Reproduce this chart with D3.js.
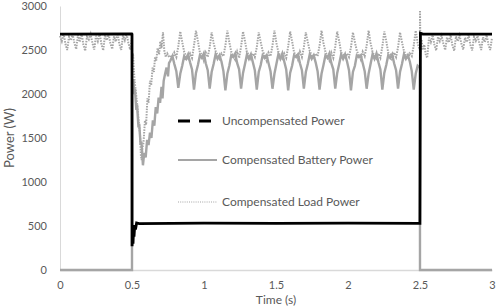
<!DOCTYPE html>
<html>
<head>
<meta charset="utf-8">
<script src="https://cdn.jsdelivr.net/npm/d3@7"></script>
<style>
  body { margin: 0; background: #fff; }
  text { font-family: Lato, "Liberation Sans", sans-serif; fill: #595959; }
</style>
</head>
<body>
<div id="chart"></div>
<script>
// tick labels
const xTicks = [0, 0.5, 1, 1.5, 2, 2.5, 3];
const yTicks = [0, 500, 1000, 1500, 2000, 2500, 3000];

// Uncompensated power, [time, watts]
const uncompensated = [
  [0, 2680], [0.499, 2682], [0.5, 2680], [0.5005, 270], [0.504, 420], [0.507, 300],
  [0.511, 470], [0.514, 380], [0.519, 510], [0.524, 460], [0.532, 535], [0.55, 528],
  [1.0, 532], [1.5, 530], [2.0, 532], [2.4995, 530], [2.503, 2690], [2.52, 2680], [3.0, 2680]
];

// Compensated battery power: transient pairs and a steady run (t0, dt, values)
const batteryStart = [[0, 0], [0.5, 0]];
const batteryDip = [
  [0.5004, 2160], [0.505, 2100], [0.51, 2170], [0.515, 2000], [0.52, 2060], [0.53, 1820],
  [0.535, 1880], [0.545, 1620], [0.55, 1660], [0.56, 1420], [0.565, 1460], [0.576, 1190],
  [0.585, 1330], [0.595, 1280], [0.605, 1480], [0.615, 1420], [0.625, 1560], [0.635, 1500],
  [0.645, 1700], [0.655, 1640], [0.665, 1850], [0.675, 1780], [0.685, 1960], [0.695, 1900],
  [0.705, 2080], [0.712, 1950], [0.72, 2150], [0.73, 2230], [0.74, 2300], [0.75, 2200],
  [0.757, 2350]
];
const batterySteadyT0 = 0.767, batterySteadyDt = 0.013625;
const batterySteady = [
  2380, 2430, 2340, 2260, 2070, 2230, 2320, 2430,
  2400, 2450, 2360, 2280, 2050, 2240, 2330, 2440,
  2410, 2460, 2350, 2270, 2060, 2250, 2340, 2450,
  2400, 2440, 2370, 2260, 2040, 2230, 2320, 2440,
  2420, 2460, 2350, 2280, 2060, 2240, 2340, 2450,
  2400, 2450, 2360, 2270, 2050, 2250, 2330, 2440,
  2410, 2440, 2350, 2260, 2060, 2230, 2340, 2450,
  2400, 2460, 2370, 2280, 2040, 2240, 2320, 2440,
  2420, 2450, 2350, 2270, 2060, 2250, 2340, 2450,
  2400, 2440, 2360, 2260, 2050, 2230, 2330, 2440,
  2410, 2460, 2350, 2280, 2060, 2240, 2340, 2450,
  2400, 2450, 2370, 2270, 2040, 2250, 2320, 2440,
  2420, 2440, 2350, 2260, 2060, 2230, 2340, 2450,
  2400, 2460, 2360, 2280, 2050, 2240, 2330, 2440,
  2410, 2450, 2350, 2270, 2060, 2250, 2340, 2450,
  2400, 2440, 2370, 2260, 2050, 2230, 2320, 2300
];
const batteryEnd = [[2.4995, 2300], [2.5, 0], [3.0, 0]];

// Compensated load power
const loadPreT0 = 0, loadPreDt = 0.0125;
const loadPre = [
  2660, 2600, 2690, 2570, 2500,
  2650, 2610, 2680, 2580, 2510,
  2670, 2590, 2690, 2560, 2490,
  2650, 2620, 2680, 2580, 2505,
  2660, 2600, 2690, 2570, 2495,
  2670, 2610, 2680, 2575, 2510,
  2655, 2595, 2690, 2565, 2500,
  2665, 2610, 2685, 2580, 2505
];
const loadDip = [
  [0.5, 2640], [0.5004, 2450], [0.503, 2380], [0.507, 2460], [0.512, 2300], [0.518, 2150],
  [0.525, 2050], [0.535, 1900], [0.545, 1720], [0.555, 1560], [0.562, 1300], [0.567, 1250],
  [0.572, 1380], [0.58, 1450], [0.59, 1700], [0.598, 1650], [0.607, 1950], [0.615, 1900],
  [0.625, 2150], [0.633, 2100], [0.643, 2300], [0.652, 2250], [0.66, 2420], [0.668, 2380],
  [0.678, 2520], [0.688, 2450], [0.697, 2600], [0.705, 2520], [0.715, 2700], [0.725, 2480],
  [0.735, 2420], [0.745, 2460], [0.755, 2430]
];
const loadSteadyT0 = 0.767, loadSteadyDt = 0.013625;
const loadSteady = [
  2440, 2390, 2470, 2420, 2540, 2710, 2590, 2480,
  2430, 2400, 2460, 2410, 2550, 2720, 2600, 2470,
  2450, 2380, 2470, 2420, 2530, 2700, 2580, 2490,
  2440, 2400, 2460, 2430, 2550, 2720, 2590, 2480,
  2430, 2390, 2480, 2410, 2540, 2710, 2600, 2470,
  2450, 2400, 2460, 2420, 2530, 2700, 2590, 2490,
  2440, 2380, 2470, 2430, 2550, 2720, 2580, 2480,
  2430, 2400, 2460, 2410, 2540, 2710, 2600, 2470,
  2450, 2390, 2480, 2420, 2530, 2700, 2590, 2490,
  2440, 2400, 2460, 2430, 2550, 2720, 2580, 2480,
  2430, 2380, 2470, 2410, 2540, 2710, 2600, 2470,
  2450, 2400, 2460, 2420, 2530, 2700, 2590, 2490,
  2440, 2390, 2480, 2430, 2550, 2720, 2580, 2480,
  2430, 2400, 2460, 2410, 2540, 2710, 2600, 2470,
  2450, 2380, 2470, 2420, 2530, 2700, 2590, 2490,
  2440, 2400, 2460, 2430, 2550, 2720, 2580, 2500
];
const loadRecover = [
  [2.4995, 2520], [2.5, 2950], [2.503, 2480], [2.51, 2620], [2.52, 2500], [2.53, 2560],
  [2.54, 2450], [2.55, 2410]
];
const loadPostT0 = 2.5625, loadPostDt = 0.0125;
const loadPost = [
  2640, 2590, 2670, 2560, 2495,
  2650, 2600, 2660, 2570, 2500,
  2645, 2585, 2670, 2555, 2490,
  2655, 2600, 2665, 2570, 2505,
  2640, 2590, 2670, 2560, 2495,
  2650, 2605, 2660, 2575, 2500,
  2645, 2590, 2670, 2565, 2500,
  2640
];

const legendItems = ["Uncompensated Power", "Compensated Battery Power", "Compensated Load Power"];

function run(t0, dt, values) {
  return values.map((v, i) => [t0 + i * dt, v]);
}

const batteryData = batteryStart.concat(batteryDip, run(batterySteadyT0, batterySteadyDt, batterySteady), batteryEnd);
const loadData = run(loadPreT0, loadPreDt, loadPre).concat(loadDip, run(loadSteadyT0, loadSteadyDt, loadSteady), loadRecover, run(loadPostT0, loadPostDt, loadPost));

const W = 498, H = 308;
const plot = {left: 60, right: 492, top: 6, bottom: 270};

const svg = d3.select("#chart").append("svg")
    .attr("width", W)
    .attr("height", H);

svg.append("rect").attr("width", W).attr("height", H).attr("fill", "#fff");

const x = d3.scaleLinear().domain([0, 3]).range([plot.left, plot.right]);
const y = d3.scaleLinear().domain([0, 3000]).range([plot.bottom, plot.top]);

// axes
const xAxis = svg.append("g")
    .attr("transform", `translate(0,${plot.bottom})`)
    .call(d3.axisBottom(x).tickValues(xTicks).tickSize(0).tickPadding(11).tickFormat(d => d));
xAxis.select(".domain").attr("stroke", "#d9d9d9").attr("stroke-width", 1.5);
xAxis.selectAll("text").attr("font-size", 11).attr("fill", "#595959").style("font-family", "Lato");

const yAxis = svg.append("g")
    .attr("transform", `translate(${plot.left},0)`)
    .call(d3.axisLeft(y).tickValues(yTicks).tickSize(0).tickPadding(13).tickFormat(d => d));
yAxis.select(".domain").attr("stroke", "#d9d9d9");
yAxis.selectAll("text").attr("font-size", 11).attr("fill", "#595959").style("font-family", "Lato");

const line = d3.line().x(d => x(d[0])).y(d => y(d[1]));

svg.append("path")
    .datum(batteryData)
    .attr("fill", "none")
    .attr("stroke", "#a5a5a5")
    .attr("stroke-width", 2.4)
    .attr("d", line);

svg.append("path")
    .datum(loadData)
    .attr("fill", "none")
    .attr("stroke", "#a5a5a5")
    .attr("stroke-width", 2)
    .attr("stroke-dasharray", "1.5,1.2")
    .attr("d", line);

svg.append("path")
    .datum(uncompensated)
    .attr("fill", "none")
    .attr("stroke", "#000")
    .attr("stroke-width", 2.8)
    .attr("d", line);

// legend
const legend = svg.append("g");
const legendY = [121, 160, 202];
legend.append("line").attr("x1", 178).attr("x2", 211).attr("y1", legendY[0]).attr("y2", legendY[0])
    .attr("stroke", "#000").attr("stroke-width", 3).attr("stroke-dasharray", "12,9");
legend.append("line").attr("x1", 178).attr("x2", 217).attr("y1", legendY[1]).attr("y2", legendY[1])
    .attr("stroke", "#a5a5a5").attr("stroke-width", 2);
legend.append("line").attr("x1", 178).attr("x2", 217).attr("y1", legendY[2]).attr("y2", legendY[2])
    .attr("stroke", "#a5a5a5").attr("stroke-width", 1).attr("stroke-dasharray", "1,1.2");
legendItems.forEach((name, i) => {
  legend.append("text")
      .attr("x", 222)
      .attr("y", legendY[i])
      .attr("dy", "0.35em")
      .attr("font-size", 12)
      .text(name);
});

// axis titles
svg.append("text")
    .attr("x", (plot.left + plot.right) / 2)
    .attr("y", 300)
    .attr("dy", "0.35em")
    .attr("text-anchor", "middle")
    .attr("font-size", 12)
    .text("Time (s)");

svg.append("text")
    .attr("transform", `translate(9,${(plot.top + plot.bottom) / 2}) rotate(-90)`)
    .attr("dy", "0.35em")
    .attr("text-anchor", "middle")
    .attr("font-size", 13)
    .text("Power (W)");
</script>
</body>
</html>
